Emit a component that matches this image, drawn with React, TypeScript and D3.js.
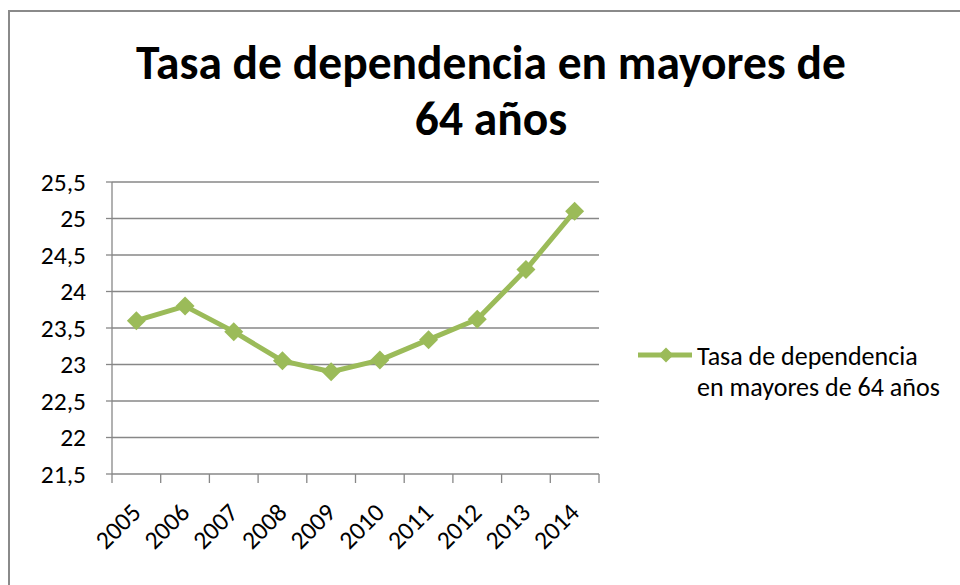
import React from "react";
import * as d3 from "d3";

const years = ["2005", "2006", "2007", "2008", "2009", "2010", "2011", "2012", "2013", "2014"];
const values = [23.6, 23.8, 23.45, 23.05, 22.9, 23.06, 23.34, 23.62, 24.3, 25.1];
const yTicks = [21.5, 22, 22.5, 23, 23.5, 24, 24.5, 25, 25.5];
const titleLines = ["Tasa de dependencia en mayores de", "64 años"];
const legendLines = ["Tasa de dependencia", "en mayores de 64 años"];

const W = 960, H = 585;
const M = { left: 112, right: 599, top: 182, bottom: 474 };
const GREEN = "#9BBB59";
const GRID = "#878787";
const FONT = "Carlito, Calibri, 'Open Sans', 'DejaVu Sans', sans-serif";

export default function App() {
  const x = d3.scaleBand<string>().domain(years).range([M.left, M.right]).padding(0);
  const y = d3.scaleLinear().domain([21.5, 25.5]).range([M.bottom, M.top]);
  const cx = (d: string) => (x(d) as number) + x.bandwidth() / 2;
  const line = d3.line<number>().x((_, i) => cx(years[i])).y((v) => y(v));
  const diamond = (px: number, py: number, r: number) =>
    `M${px},${py - r}L${px + r},${py}L${px},${py + r}L${px - r},${py}Z`;
  const boundaries = years.map((d) => x(d) as number).concat([M.right]);

  return (
    <svg width={W} height={H} style={{ position: "absolute", left: 0, top: 0 }}>
      <rect x={0} y={0} width={W} height={H} fill="#fff" />
      <rect x={9} y={11} width={W + 20} height={H + 20} fill="none" stroke="#8a8a8a" strokeWidth={2} />
      {titleLines.map((t, i) => (
        <text key={i} x={491} y={79 + i * 56} textAnchor="middle" fontFamily={FONT} fontWeight="bold" fontSize={47.5} fill="#000">
          {t}
        </text>
      ))}
      {yTicks.map((t) => (
        <g key={t}>
          <line x1={M.left} x2={M.right} y1={y(t)} y2={y(t)} stroke={GRID} strokeWidth={1.3} />
          <line x1={M.left - 6} x2={M.left} y1={y(t)} y2={y(t)} stroke={GRID} strokeWidth={1.3} />
          <text x={86} y={y(t)} dy="0.35em" textAnchor="end" fontFamily={FONT} fontSize={25.5} fill="#000">
            {String(t).replace(".", ",")}
          </text>
        </g>
      ))}
      <line x1={M.left} x2={M.left} y1={M.top} y2={M.bottom} stroke={GRID} strokeWidth={1.3} />
      {boundaries.map((b, i) => (
        <line key={i} x1={b} x2={b} y1={M.bottom} y2={M.bottom + 9} stroke={GRID} strokeWidth={1.3} />
      ))}
      {years.map((d) => (
        <text
          key={d}
          transform={`translate(${cx(d) - 7},${M.bottom + 27}) rotate(-45)`}
          textAnchor="end"
          dy="0.72em"
          fontFamily={FONT}
          fontSize={25.5}
          fill="#000"
        >
          {d}
        </text>
      ))}
      <path d={line(values) || ""} fill="none" stroke={GREEN} strokeWidth={5} strokeLinejoin="round" />
      {values.map((v, i) => (
        <path key={i} d={diamond(cx(years[i]), y(v), 9.5)} fill={GREEN} />
      ))}
      <line x1={638} x2={692} y1={355} y2={355} stroke={GREEN} strokeWidth={5} />
      <path d={diamond(666, 355, 7.5)} fill={GREEN} />
      {legendLines.map((t, i) => (
        <text key={i} x={697} y={365 + i * 31} fontFamily={FONT} fontSize={26} fill="#000">
          {t}
        </text>
      ))}
    </svg>
  );
}
